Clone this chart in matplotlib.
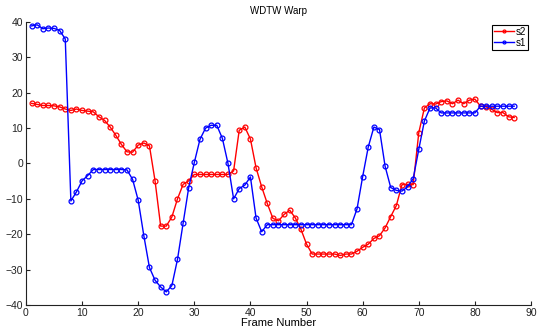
import numpy as np
import matplotlib.pyplot as plt

plt.rcParams['font.family'] = ['Liberation Sans', 'DejaVu Sans']

# 帧序号
frames = np.arange(1, 88)

# s2（红）
s2 = [17.0, 16.7, 16.4, 16.4, 16.3, 16.0, 15.4, 15.0, 15.4, 15.0,
      14.8, 14.6, 13.2, 12.2, 10.3, 8.0, 5.4, 3.3, 3.2, 5.2,
      5.8, 5.0, -4.9, -17.7, -17.7, -15.1, -10.0, -5.9, -4.9, -3.1,
      -3.1, -3.1, -3.1, -3.1, -3.1, -3.1, -2.1, 9.4, 10.3, 6.9,
      -1.2, -6.6, -11.3, -15.5, -16.2, -14.4, -13.2, -15.4, -18.6, -22.8,
      -25.6, -25.6, -25.6, -25.6, -25.6, -26.0, -25.6, -25.6, -24.8, -23.7,
      -22.8, -21.2, -20.4, -18.2, -15.0, -11.9, -6.0, -5.9, -6.0, 8.7,
      15.7, 16.9, 16.8, 17.5, 17.7, 16.9, 17.9, 16.9, 17.9, 18.2,
      16.2, 16.0, 15.3, 14.4, 14.4, 13.2, 13.0]

# s1（蓝）
s1 = [38.9, 39.2, 38.1, 38.3, 38.2, 37.6, 35.2, -10.6, -8.0, -4.9,
      -3.4, -1.7, -1.7, -1.7, -1.7, -1.7, -1.7, -1.8, -4.5, -10.4,
      -20.4, -29.4, -33.0, -34.9, -36.3, -34.5, -27.1, -16.9, -6.8, 0.3,
      6.8, 10.0, 10.8, 10.8, 7.1, 0.0, -10.0, -7.1, -6.1, -3.8,
      -15.4, -19.3, -17.3, -17.3, -17.3, -17.3, -17.3, -17.3, -17.3, -17.3,
      -17.3, -17.3, -17.3, -17.3, -17.3, -17.3, -17.3, -17.3, -12.8, -3.7,
      4.7, 10.3, 9.6, -0.8, -6.8, -7.6, -7.8, -6.6, -4.3, 4.0,
      12.0, 15.7, 15.7, 14.3, 14.3, 14.3, 14.3, 14.3, 14.3, 14.3,
      16.2, 16.2, 16.2, 16.2, 16.2, 16.2, 16.2]

fig = plt.figure(figsize=(5.38, 3.30), dpi=100)
ax = fig.add_axes([0.0483, 0.0758, 0.9387, 0.8575])

ax.plot(frames, s2, '-o', color='red', linewidth=1, markersize=3.5,
        fillstyle='none', markeredgewidth=0.9, label='s2')
ax.plot(frames, s1, '-o', color='blue', linewidth=1, markersize=3.5,
        fillstyle='none', markeredgewidth=0.9, label='s1')

ax.set_xlim(0, 90)
ax.set_ylim(-40, 40)
ax.set_xticks(range(0, 91, 10))
ax.set_yticks(range(-40, 41, 10))
ax.tick_params(direction='in', labelsize=7.5, length=3, pad=2, colors='#222222')
for s in ['top', 'right']:
    ax.spines[s].set_visible(False)
for s in ['left', 'bottom']:
    ax.spines[s].set_color('#222222')

ax.set_title('WDTW Warp', fontsize=7, pad=6)
ax.set_xlabel('Frame Number', fontsize=8, labelpad=0)

leg = ax.legend(loc='upper right', fontsize=7, fancybox=False, framealpha=1,
                handlelength=2, handletextpad=0.2, borderpad=0.2,
                labelspacing=0.1, borderaxespad=0.3, markerscale=0.6)
leg.get_frame().set_edgecolor('black')
leg.get_frame().set_linewidth(0.8)

plt.savefig('out.png', dpi=100)
plt.close()
